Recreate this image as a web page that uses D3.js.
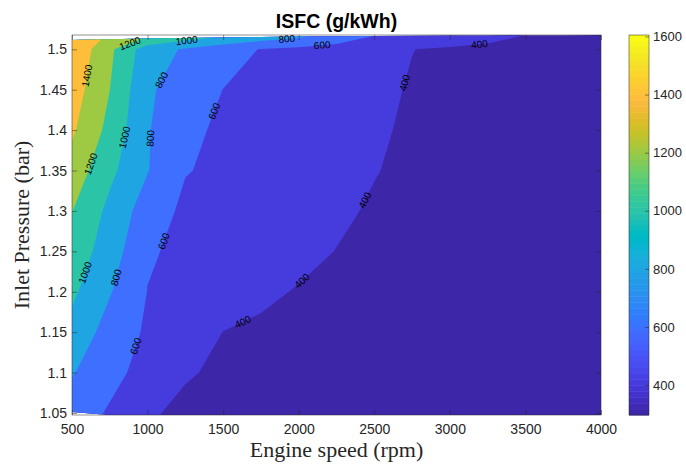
<!DOCTYPE html>
<html>
<head>
<meta charset="utf-8">
<script src="https://cdn.jsdelivr.net/npm/d3@7"></script>
<style>
  body { margin: 0; background: #fff; }
  svg text { font-family: "Liberation Sans", Arial, sans-serif; }
</style>
</head>
<body>
<svg id="chart" width="686" height="466"></svg>
<script>
// engine speed grid (rpm) and nominal inlet pressure rows (bar)
const speeds = [500, 750, 1000, 1250, 1500, 1750, 2000, 2250, 2500, 2750, 3000, 3250, 3500, 3750, 4000]
const pressures = [1.05, 1.10, 1.15, 1.20, 1.25, 1.30, 1.35, 1.40, 1.45, 1.50]
// measured pressure of the lowest and highest point at each speed
const bottomEdge = [1.0512, 1.0475, 1.0475, 1.0475, 1.0475, 1.0475, 1.0475, 1.0475, 1.0475, 1.0475, 1.0475, 1.0475, 1.0475, 1.0475, 1.0475]
const topEdge = [1.5115, 1.5124, 1.5133, 1.514, 1.5146, 1.5152, 1.5158, 1.5161, 1.5164, 1.5167, 1.517, 1.5172, 1.5174, 1.5175, 1.5177]

// ISFC (g/kWh), one row per pressure, bottom to top, last row = top edge
const isfc = [
  [700, 575, 440, 318, 310, 318, 322, 320, 316, 312, 308, 305, 302, 300, 297],
  [815, 657, 533, 431, 345, 345, 340, 335, 330, 325, 320, 315, 310, 305, 300],
  [935, 721, 572, 486, 398, 375, 360, 350, 345, 340, 335, 330, 325, 320, 315],
  [1037, 814, 596, 541, 483, 428, 390, 370, 360, 352, 345, 340, 335, 330, 325],
  [1120, 901, 620, 560, 520, 480, 440, 397, 365, 355, 350, 345, 340, 335, 330],
  [1205, 950, 700, 562, 530, 498, 466, 425, 384, 365, 355, 350, 345, 340, 335],
  [1320, 1047, 809, 608, 568, 528, 487, 447, 406, 370, 360, 352, 347, 342, 337],
  [1430, 1142, 816, 623, 583, 542, 501, 460, 420, 379, 365, 355, 348, 343, 338],
  [1500, 1201, 830, 700, 598, 556, 514, 472, 430, 390, 375, 362, 352, 345, 340],
  [1570, 1241, 893, 778, 682, 592, 553, 515, 477, 402, 380, 365, 350, 335, 320],
  [1605, 1338, 1178, 1067, 971, 900, 829, 721, 596, 547, 498, 449, 398, 370, 350]
]

const levels = [400, 600, 800, 1000, 1200, 1400, 1600]
const xTicks = [500, 1000, 1500, 2000, 2500, 3000, 3500, 4000]
const yTicks = [1.05, 1.1, 1.15, 1.2, 1.25, 1.3, 1.35, 1.4, 1.45, 1.5]
const cbTicks = [400, 600, 800, 1000, 1200, 1400, 1600]

// where clabel put the contour labels: [level, rpm, bar]
const contourLabels = [
  [1400, 639, 1.466], [1200, 579, 1.361], [1200, 884, 1.507], [1000, 1261, 1.507],
  [1000, 824, 1.392], [1000, 553, 1.226], [800, 1102, 1.461], [800, 989, 1.39],
  [800, 784, 1.218], [800, 1922, 1.51], [600, 2153, 1.509], [600, 1406, 1.426],
  [600, 1115, 1.262], [600, 983, 1.129], [400, 1624, 1.165], [400, 2034, 1.211],
  [400, 2504, 1.307], [400, 2709, 1.458], [400, 3192, 1.513]
]

const parula = [
  [0.2422,0.1504,0.6603],[0.2504,0.1650,0.7076],[0.2578,0.1818,0.7511],[0.2647,0.1978,0.7952],
  [0.2706,0.2147,0.8364],[0.2751,0.2342,0.8710],[0.2783,0.2559,0.8991],[0.2803,0.2782,0.9221],
  [0.2813,0.3006,0.9414],[0.2810,0.3228,0.9579],[0.2795,0.3447,0.9717],[0.2760,0.3667,0.9829],
  [0.2699,0.3892,0.9906],[0.2602,0.4123,0.9952],[0.2440,0.4358,0.9988],[0.2206,0.4603,0.9973],
  [0.1963,0.4847,0.9892],[0.1834,0.5074,0.9798],[0.1786,0.5289,0.9682],[0.1764,0.5499,0.9520],
  [0.1687,0.5703,0.9359],[0.1540,0.5902,0.9218],[0.1460,0.6091,0.9079],[0.1380,0.6276,0.8973],
  [0.1248,0.6459,0.8883],[0.1113,0.6635,0.8763],[0.0952,0.6798,0.8598],[0.0689,0.6948,0.8394],
  [0.0297,0.7082,0.8163],[0.0036,0.7203,0.7917],[0.0067,0.7312,0.7660],[0.0433,0.7411,0.7394],
  [0.0964,0.7500,0.7120],[0.1408,0.7584,0.6842],[0.1717,0.7670,0.6554],[0.1938,0.7758,0.6251],
  [0.2161,0.7843,0.5923],[0.2470,0.7918,0.5567],[0.2906,0.7973,0.5188],[0.3406,0.8008,0.4789],
  [0.3909,0.8029,0.4354],[0.4456,0.8024,0.3909],[0.5044,0.7993,0.3480],[0.5616,0.7942,0.3045],
  [0.6174,0.7876,0.2612],[0.6720,0.7793,0.2227],[0.7242,0.7698,0.1910],[0.7738,0.7598,0.1646],
  [0.8203,0.7498,0.1535],[0.8634,0.7406,0.1596],[0.9035,0.7330,0.1774],[0.9393,0.7288,0.2100],
  [0.9728,0.7298,0.2394],[0.9956,0.7434,0.2371],[0.9970,0.7659,0.2199],[0.9952,0.7893,0.2028],
  [0.9892,0.8136,0.1885],[0.9786,0.8386,0.1766],[0.9676,0.8639,0.1643],[0.9610,0.8890,0.1537],
  [0.9597,0.9135,0.1423],[0.9628,0.9373,0.1265],[0.9691,0.9606,0.1064],[0.9769,0.9839,0.0805]
].map(c => d3.rgb(c[0] * 255, c[1] * 255, c[2] * 255).formatHex())

const svg = d3.select('#chart')
const plotL = 72, plotR = 601, plotT = 35, plotB = 415
const ink = '#262626'

const x = d3.scaleLinear().domain([500, 4000]).range([plotL, plotR])
const y = d3.scaleLinear().domain([1.0475, 1.5177]).range([plotB, plotT])

const nx = speeds.length, ny = isfc.length
const values = isfc.flat()
const cmin = d3.min(values), cmax = d3.max(values)

function colorOf(v) {
  let k = Math.floor((v - cmin) / (cmax - cmin) * parula.length)
  return parula[Math.max(0, Math.min(parula.length - 1, k))]
}

// pressure of every grid node
const pGrid = isfc.map((row, j) => speeds.map((s, i) =>
  j === 0 ? bottomEdge[i] : j === ny - 1 ? topEdge[i] : pressures[j]))

const idxToSpeed = d3.scaleLinear().domain(d3.range(nx)).range(speeds)

function pressureAt(fx, fy) {
  const i0 = Math.min(Math.floor(fx), nx - 2), j0 = Math.min(Math.floor(fy), ny - 2)
  const tx = fx - i0, ty = fy - j0
  const a = pGrid[j0][i0] * (1 - tx) + pGrid[j0][i0 + 1] * tx
  const b = pGrid[j0 + 1][i0] * (1 - tx) + pGrid[j0 + 1][i0 + 1] * tx
  return a * (1 - ty) + b * ty
}

function toPixel(cx, cy) {
  const fx = Math.max(0, Math.min(nx - 1, cx - 0.5))
  const fy = Math.max(0, Math.min(ny - 1, cy - 0.5))
  return [x(idxToSpeed(fx)), y(pressureAt(fx, fy))]
}

const proj = d3.geoTransform({
  point: function(cx, cy) {
    const p = toPixel(cx, cy)
    this.stream.point(p[0], p[1])
  }
})
const path = d3.geoPath(proj)

const bands = d3.contours()
  .size([nx, ny])
  .thresholds([cmin].concat(levels))(values)

svg.append('g')
  .selectAll('path')
  .data(bands)
  .enter()
  .append('path')
  .attr('d', path)
  .attr('fill', d => colorOf(d.value))
  .attr('stroke', 'none')

// contour labels, snapped to the nearest point of their contour line
function onFrame(p) {
  return p[0] <= 0 || p[0] >= nx || p[1] <= 0 || p[1] >= ny
}

const labelG = svg.append('g')
contourLabels.forEach(([level, rpm, bar]) => {
  const band = bands.find(b => b.value === level)
  if(!band) return
  const tx = x(rpm), ty = y(bar)
  let best = null
  band.coordinates.forEach(poly => poly.forEach(ring => {
    for(let k = 0; k < ring.length - 1; k++) {
      if(onFrame(ring[k]) && onFrame(ring[k + 1])) continue
      const a = toPixel(ring[k][0], ring[k][1]), b = toPixel(ring[k + 1][0], ring[k + 1][1])
      const dx = b[0] - a[0], dy = b[1] - a[1]
      const len2 = dx * dx + dy * dy
      if(len2 < 1e-6) continue
      let t = ((tx - a[0]) * dx + (ty - a[1]) * dy) / len2
      t = Math.max(0, Math.min(1, t))
      const px = a[0] + t * dx, py = a[1] + t * dy
      const dist = (px - tx) ** 2 + (py - ty) ** 2
      if(!best || dist < best.dist) best = {dist, px, py, ang: Math.atan2(dy, dx) * 180 / Math.PI}
    }
  }))
  if(!best) return
  let ang = best.ang
  if(ang > 90) ang -= 180
  if(ang <= -90) ang += 180
  labelG.append('text')
    .attr('transform', `translate(${best.px},${best.py}) rotate(${ang})`)
    .attr('text-anchor', 'middle')
    .attr('dy', '0.35em')
    .attr('font-size', 10)
    .attr('fill', '#000')
    .text(level)
})

// axes, MATLAB style: box, ticks pointing in
const axisStyle = size => g => {
  g.select('.domain').remove()
  g.selectAll('.tick line').attr('stroke', ink).attr('stroke-width', 0.5)
  g.selectAll('.tick text').attr('fill', ink).attr('font-size', size)
    .attr('font-family', '"Liberation Sans", Arial, sans-serif')
}

svg.append('g')
  .attr('transform', `translate(0,${plotB})`)
  .call(d3.axisBottom(x).tickValues(xTicks).tickSize(-5).tickPadding(9).tickFormat(d3.format('d')))
  .call(axisStyle(14))
svg.append('g')
  .attr('transform', `translate(0,${plotT})`)
  .call(d3.axisTop(x).tickValues(xTicks).tickSize(-5).tickFormat(''))
  .call(axisStyle(14))
svg.append('g')
  .attr('transform', `translate(${plotL},0)`)
  .call(d3.axisLeft(y).tickValues(yTicks).tickSize(-5).tickPadding(5).tickFormat(d3.format('~g')))
  .call(axisStyle(14))
svg.append('g')
  .attr('transform', `translate(${plotR},0)`)
  .call(d3.axisRight(y).tickValues(yTicks).tickSize(-5).tickFormat(''))
  .call(axisStyle(14))

svg.append('rect')
  .attr('x', plotL).attr('y', plotT)
  .attr('width', plotR - plotL).attr('height', plotB - plotT)
  .attr('fill', 'none').attr('stroke', ink).attr('stroke-width', 0.5)

// colorbar
const cbX = 629, cbW = 20
const cbY = d3.scaleLinear().domain([cmin, cmax]).range([plotB, plotT])
const cbStep = (cmax - cmin) / parula.length
svg.append('g')
  .selectAll('rect')
  .data(parula)
  .enter()
  .append('rect')
  .attr('x', cbX)
  .attr('y', (c, i) => cbY(cmin + (i + 1) * cbStep))
  .attr('width', cbW)
  .attr('height', (c, i) => cbY(cmin + i * cbStep) - cbY(cmin + (i + 1) * cbStep) + 0.5)
  .attr('fill', c => c)

svg.append('g')
  .attr('transform', `translate(${cbX + cbW},0)`)
  .call(d3.axisRight(cbY).tickValues(cbTicks).tickSize(-4).tickPadding(4).tickFormat(d3.format('d')))
  .call(axisStyle(13))

svg.append('rect')
  .attr('x', cbX).attr('y', plotT)
  .attr('width', cbW).attr('height', plotB - plotT)
  .attr('fill', 'none').attr('stroke', ink).attr('stroke-width', 0.5)

// titles
svg.append('text')
  .attr('x', (plotL + plotR) / 2)
  .attr('y', 28)
  .attr('text-anchor', 'middle')
  .attr('font-size', 19.5)
  .attr('font-weight', 'bold')
  .attr('fill', '#000')
  .text('ISFC (g/kWh)')

svg.append('text')
  .attr('x', (plotL + plotR) / 2)
  .attr('y', 457)
  .attr('text-anchor', 'middle')
  .attr('font-size', 22)
  .style('font-family', '"Liberation Serif", "Times New Roman", serif')
  .attr('fill', ink)
  .text('Engine speed (rpm)')

svg.append('text')
  .attr('transform', `translate(29,${(plotT + plotB) / 2}) rotate(-90)`)
  .attr('text-anchor', 'middle')
  .attr('font-size', 22)
  .style('font-family', '"Liberation Serif", "Times New Roman", serif')
  .attr('fill', ink)
  .text('Inlet Pressure (bar)')
</script>
</body>
</html>
